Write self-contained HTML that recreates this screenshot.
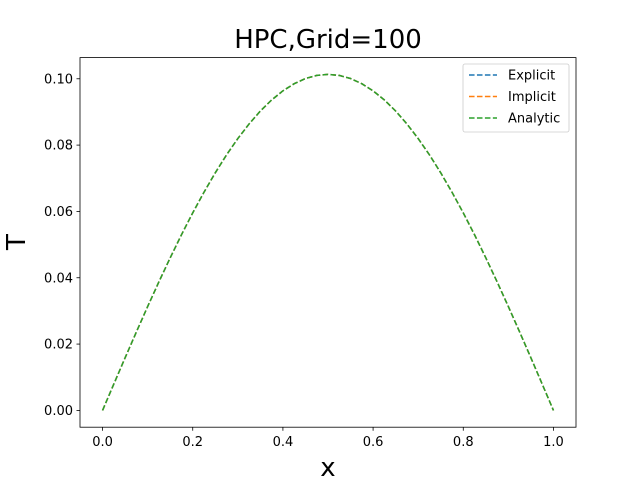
<!DOCTYPE html>
<html><head><meta charset="utf-8"><style>body{margin:0;background:#fff}svg{font-family:"DejaVu Sans","Liberation Sans",sans-serif}</style></head>
<body>
<svg width="640" height="480" viewBox="0 0 640 480" id="c">
<rect width="640" height="480" fill="#fff"/>
<text x="328" y="48" font-size="26" text-anchor="middle">HPC,Grid=100</text>
<text x="328" y="476" font-size="26" text-anchor="middle">x</text>
<text transform="translate(25,242) rotate(-90)" font-size="26" text-anchor="middle">T</text>
<g id="ticks"></g>
<g id="lines"></g>
<rect x="80" y="57.6" width="496" height="369.6" fill="none" stroke="#000" stroke-width="0.8"/>
<g>
<rect x="463" y="64" width="106" height="68" rx="2" fill="#fff" fill-opacity="0.8" stroke="#ccc" stroke-width="0.8"/>
<g id="leg"></g>
</g>
</svg>
<script>
const xs=[0,0.025,0.05,0.075,0.1,0.125,0.15,0.175,0.2,0.225,0.25,0.275,0.3,0.325,0.35,0.375,0.4,0.425,0.45,0.475,0.5,0.525,0.55,0.575,0.6,0.625,0.65,0.675,0.7,0.725,0.75,0.775,0.8,0.825,0.85,0.875,0.9,0.925,0.95,0.975,1];
const explicitT=[0,0.00795,0.01585,0.02365,0.03131,0.03877,0.046,0.05296,0.05956,0.06580,0.07165,0.07706,0.08197,0.08638,0.09028,0.09361,0.09636,0.09851,0.10008,0.10101,0.10132,0.10101,0.10008,0.09851,0.09636,0.09361,0.09028,0.08638,0.08197,0.07706,0.07165,0.06580,0.05956,0.05296,0.046,0.03877,0.03131,0.02365,0.01585,0.00795,0];
const implicitT=[0,0.00795,0.01585,0.02365,0.03131,0.03877,0.046,0.05296,0.05956,0.06580,0.07165,0.07706,0.08197,0.08638,0.09028,0.09361,0.09636,0.09851,0.10008,0.10101,0.10132,0.10101,0.10008,0.09851,0.09636,0.09361,0.09028,0.08638,0.08197,0.07706,0.07165,0.06580,0.05956,0.05296,0.046,0.03877,0.03131,0.02365,0.01585,0.00795,0];
const analyticT=[0,0.00795,0.01585,0.02365,0.03131,0.03877,0.046,0.05296,0.05956,0.06580,0.07165,0.07706,0.08197,0.08638,0.09028,0.09361,0.09636,0.09851,0.10008,0.10101,0.10132,0.10101,0.10008,0.09851,0.09636,0.09361,0.09028,0.08638,0.08197,0.07706,0.07165,0.06580,0.05956,0.05296,0.046,0.03877,0.03131,0.02365,0.01585,0.00795,0];
const xTicks=[0,0.2,0.4,0.6,0.8,1.0];
const yTicks=[0,0.02,0.04,0.06,0.08,0.10];
const seriesNames=["Explicit","Implicit","Analytic"];
const colors=["#1f77b4","#ff7f0e","#2ca02c"];
const NS="http://www.w3.org/2000/svg";
const all=[...explicitT,...implicitT,...analyticT];
const ymx=Math.max(...all),ymn=Math.min(...all),pad=(ymx-ymn)*0.05;
const X=v=>80+(v+0.05)/1.1*496;
const Y=v=>427.2-(v-(ymn-pad))/((ymx+pad)-(ymn-pad))*369.6;
function mk(t,a,p){const e=document.createElementNS(NS,t);for(const k in a)e.setAttribute(k,a[k]);p.appendChild(e);return e;}
const tg=document.getElementById('ticks');
xTicks.forEach(v=>{const g=mk('g',{},tg);


mk('line',{x1:X(v),x2:X(v),y1:427.2,y2:430.7,stroke:'#000','stroke-width':0.8},g);
const t=mk('text',{x:X(v),y:446,'font-size':13,'text-anchor':'middle'},g);t.textContent=v.toFixed(1);});
yTicks.forEach(v=>{const g=mk('g',{},tg);


mk('line',{x1:76.5,x2:80,y1:Y(v),y2:Y(v),stroke:'#000','stroke-width':0.8},g);
const t=mk('text',{x:73,y:Y(v)+4.5,'font-size':13,'text-anchor':'end'},g);t.textContent=v.toFixed(2);});
const lg=document.getElementById('lines');
[explicitT,implicitT,analyticT].forEach((s,i)=>{
const p=mk('polyline',{points:s.map((v,j)=>X(xs[j])+','+Y(v)).join(' '),fill:'none',stroke:colors[i],'stroke-width':1.5,'stroke-dasharray':'5.55,2.4'},lg);

});
const leg=document.getElementById('leg');
seriesNames.forEach((n,i)=>{const y=75+i*21.5;const g=mk('g',{},leg);


mk('line',{x1:469,x2:497,y1:y,y2:y,stroke:colors[i],'stroke-width':1.5,'stroke-dasharray':'5.55,2.4'},g);
const t=mk('text',{x:508,y:y+4.5,'font-size':13},g);t.textContent=n;});
</script>
</body></html>
